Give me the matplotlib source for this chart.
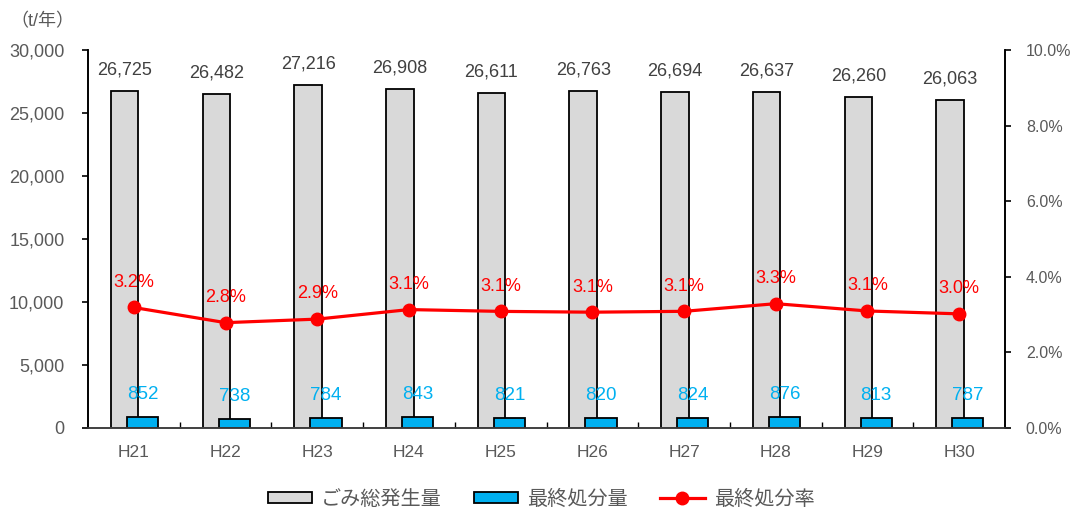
import matplotlib.pyplot as plt
import numpy as np
from matplotlib.patches import Patch
from matplotlib.lines import Line2D

# Latin digits from Liberation Sans, Japanese glyphs fall back to Noto CJK
plt.rcParams['font.family'] = ['Liberation Sans', 'Noto Sans CJK JP']

years = ['H21', 'H22', 'H23', 'H24', 'H25', 'H26', 'H27', 'H28', 'H29', 'H30']
total_waste = [26725, 26482, 27216, 26908, 26611, 26763, 26694, 26637, 26260, 26063]
final_disposal = [852, 738, 784, 843, 821, 820, 824, 876, 813, 787]
disposal_rate = [3.2, 2.8, 2.9, 3.1, 3.1, 3.1, 3.1, 3.3, 3.1, 3.0]
# line is drawn from the exact ratio, labels show the rounded value
rate_exact = [d / t * 100 for d, t in zip(final_disposal, total_waste)]

text_gray = '#595959'
gray_fill = '#D9D9D9'
blue_fill = '#00B0F0'
red = '#FF0000'

fig = plt.figure(figsize=(10.73, 5.12), dpi=100)
ax = fig.add_axes([88 / 1073, 1 - 428 / 512, (1005 - 88) / 1073, (428 - 50) / 512])
ax2 = ax.twinx()

x = np.arange(len(years))
gx = x - 0.1
bx = x + 0.095
ax.bar(gx, total_waste, width=0.3, color=gray_fill, edgecolor='black', linewidth=1.3, zorder=2)
ax.bar(bx, final_disposal, width=0.34, color=blue_fill, edgecolor='black', linewidth=1.3, zorder=3)

for i in range(len(years)):
    ax.annotate(f'{total_waste[i]:,}', (gx[i], total_waste[i]), xytext=(0, 9),
                textcoords='offset points', ha='center', va='bottom',
                fontsize=13, color='#404040')
    ax.annotate(f'{final_disposal[i]}', (bx[i], final_disposal[i]), xytext=(0, 10),
                textcoords='offset points', ha='center', va='bottom',
                fontsize=13.5, color=blue_fill)

ax2.plot(x, rate_exact, color=red, linewidth=2.3, marker='o', markersize=9, zorder=4)
for i in range(len(years)):
    ax2.annotate(f'{disposal_rate[i]:.1f}%', (x[i], rate_exact[i]), xytext=(0, 12),
                 textcoords='offset points', ha='center', va='bottom',
                 fontsize=13, color=red)

ax.set_xlim(-0.5, len(years) - 0.5)
ax.set_ylim(0, 30000)
ax.set_yticks(np.arange(0, 30001, 5000))
ax.set_yticklabels([f'{v:,}' for v in range(0, 30001, 5000)])
ax2.set_ylim(0, 10)
ax2.set_yticks(np.arange(0, 10.1, 2))
ax2.set_yticklabels([f'{v:.1f}%' for v in np.arange(0, 10.1, 2)])

ax.set_xticks(x)
ax.set_xticklabels(years)
ax.set_xticks(np.arange(0.5, len(years) - 0.5), minor=True)
ax.tick_params(axis='x', which='major', length=0, pad=12, labelsize=12.5, labelcolor=text_gray)
ax.tick_params(axis='x', which='minor', direction='in', length=4, width=1, color='black')
ax.tick_params(axis='y', direction='out', length=4, width=1.2, pad=13, labelsize=13, labelcolor=text_gray)
ax2.tick_params(axis='y', direction='out', length=4, width=1.2, pad=11, labelsize=11.5, labelcolor=text_gray)

for a in (ax, ax2):
    a.spines['top'].set_visible(False)
    a.spines['left'].set_linewidth(1.2)
    a.spines['right'].set_linewidth(1.2)
    a.spines['bottom'].set_linewidth(1.2)
    a.spines['bottom'].set_color('#404040')

fig.text(10 / 1073, 1 - 22 / 512, '（t/年）', fontsize=13, color=text_gray, va='center', ha='left')

handles = [
    Patch(facecolor=gray_fill, edgecolor='black', linewidth=1.3),
    Patch(facecolor=blue_fill, edgecolor='black', linewidth=1.3),
    Line2D([0], [0], color=red, linewidth=2.3, marker='o', markersize=9),
]
fig.legend(handles, ['ごみ総発生量', '最終処分量', '最終処分率'], loc='center',
           bbox_to_anchor=(541 / 1073, 1 - 499 / 512), ncol=3, frameon=False,
           fontsize=14.5, handlelength=2.2, handleheight=0.5, columnspacing=1.6,
           handletextpad=0.45, labelcolor=text_gray)

fig.savefig('out.png', dpi=100)
